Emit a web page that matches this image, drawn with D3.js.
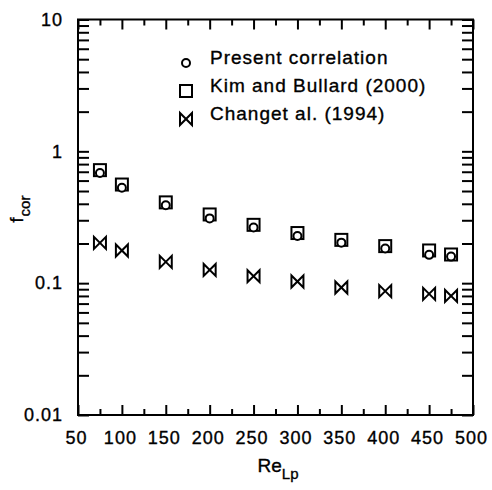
<!DOCTYPE html>
<html>
<head>
  <meta charset="utf-8">
  <title>f_cor vs Re_Lp</title>
  <script src="https://d3js.org/d3.v7.min.js"></script>
</head>

<style>
body { margin: 0; background: white; }
svg text { font-family: "Liberation Sans", Arial, sans-serif; fill: black; stroke: black; stroke-width: 0.35px; }
.tick text { font-size: 18px; letter-spacing: 1px; }
.tick line { stroke: black; stroke-width: 2; }
.domain { display: none; }
</style>

<body>
</body>
<script>

  // Reynolds numbers of the points
  var reLp = [75, 100, 150, 200, 250, 300, 350, 400, 450, 475];

  // series
  var present = [0.686, 0.53, 0.39, 0.31, 0.264, 0.228, 0.203, 0.183, 0.164, 0.159];
  var kimBullard = [0.72, 0.56, 0.41, 0.332, 0.277, 0.24, 0.213, 0.191, 0.177, 0.165];
  var chang = [0.202, 0.177, 0.145, 0.126, 0.113, 0.103, 0.0927, 0.087, 0.083, 0.080];

  var legendLabels = ['Present correlation', 'Kim and Bullard (2000)', 'Changet al. (1994)'];

  var xMajor = [50, 100, 150, 200, 250, 300, 350, 400, 450, 500];
  var xMinor = [75, 125, 175, 225, 275, 325, 375, 425, 475];
  var yMajor = [0.01, 0.1, 1, 10];
  var yLabels = ['0.01', '0.1', '1', '10'];

  var margin = {top: 19.5, right: 19, bottom: 75, left: 78}
    , W = 492, H = 490
    , width = W - margin.left - margin.right
    , height = H - margin.top - margin.bottom;

  var xScale = d3.scaleLinear().domain([50, 500]).range([0, width]);
  var yScale = d3.scaleLog().domain([0.01, 10]).range([height, 0]);

  // minor log ticks 2..9 in each decade
  var yMinor = [];
  yMajor.slice(0, 3).forEach(function(d) {
    for (var k = 2; k <= 9; k++) yMinor.push(d * k);
  });

  var svg = d3.select('body').append('svg')
    .attr('width', W)
    .attr('height', H);

  var g = svg.append('g')
    .attr('transform', 'translate(' + margin.left + ',' + margin.top + ')');

  // bottom axis
  g.append('g')
    .attr('transform', 'translate(0,' + height + ')')
    .call(d3.axisBottom(xScale).tickValues(xMajor).tickSize(-10).tickPadding(16).tickFormat(d3.format('d')))
    .selectAll('text').attr('dx', '-2');
  g.append('g')
    .attr('transform', 'translate(0,' + height + ')')
    .call(d3.axisBottom(xScale).tickValues(xMinor).tickSize(-6).tickFormat(''));

  // top axis
  g.append('g')
    .call(d3.axisTop(xScale).tickValues(xMajor).tickSize(-10).tickFormat(''));
  g.append('g')
    .call(d3.axisTop(xScale).tickValues(xMinor).tickSize(-6).tickFormat(''));

  // left axis
  g.append('g')
    .call(d3.axisLeft(yScale).tickValues(yMajor).tickSize(-11).tickPadding(15)
      .tickFormat(function(d, i) { return yLabels[i]; }));
  g.append('g')
    .call(d3.axisLeft(yScale).tickValues(yMinor).tickSize(-11).tickFormat(''));

  // right axis
  g.append('g')
    .attr('transform', 'translate(' + width + ',0)')
    .call(d3.axisRight(yScale).tickValues(yMajor).tickSize(-11).tickFormat(''));
  g.append('g')
    .attr('transform', 'translate(' + width + ',0)')
    .call(d3.axisRight(yScale).tickValues(yMinor).tickSize(-11).tickFormat(''));

  // frame
  g.append('rect')
    .attr('width', width)
    .attr('height', height)
    .attr('fill', 'none')
    .attr('stroke', 'black')
    .attr('stroke-width', 2);

  // axis titles
  var xt = svg.append('text')
    .attr('x', 278)
    .attr('y', 472)
    .style('text-anchor', 'middle')
    .style('font-size', '19px');
  xt.append('tspan').text('Re');
  xt.append('tspan').attr('dy', 7).style('font-size', '15px').text('Lp');

  var yt = svg.append('text')
    .attr('transform', 'translate(23,209) rotate(-90)')
    .style('text-anchor', 'middle')
    .style('font-size', '18px');
  yt.append('tspan').text('f');
  yt.append('tspan').attr('dy', 7).attr('dx', 1).style('font-size', '15px').text('cor');

  // markers
  var bowtie = 'M-6,-6L-6,6L6,-6L6,6Z';

  function drawSquare(sel) {
    sel.append('rect')
      .attr('x', -6).attr('y', -6)
      .attr('width', 12).attr('height', 12)
      .attr('fill', 'white')
      .attr('stroke', 'black')
      .attr('stroke-width', 2);
  }
  function drawCircle(sel) {
    sel.append('circle')
      .attr('r', 4)
      .attr('fill', 'white')
      .attr('stroke', 'black')
      .attr('stroke-width', 2);
  }
  function drawBowtie(sel) {
    sel.append('path')
      .attr('d', bowtie)
      .attr('fill', 'none')
      .attr('stroke', 'black')
      .attr('stroke-width', 2)
      .attr('stroke-linejoin', 'miter');
  }

  g.selectAll('.kim')
    .data(kimBullard)
    .enter().append('g')
      .attr('class', 'kim')
      .attr('transform', function(d, i) { return 'translate(' + xScale(reLp[i]) + ',' + yScale(d) + ')'; })
      .call(drawSquare);

  g.selectAll('.present')
    .data(present)
    .enter().append('g')
      .attr('class', 'present')
      .attr('transform', function(d, i) { return 'translate(' + xScale(reLp[i]) + ',' + yScale(d) + ')'; })
      .call(drawCircle);

  g.selectAll('.chang')
    .data(chang)
    .enter().append('g')
      .attr('class', 'chang')
      .attr('transform', function(d, i) { return 'translate(' + xScale(reLp[i]) + ',' + yScale(d) + ')'; })
      .call(drawBowtie);

  // legend
  var legendY = [63, 91, 119];
  var drawers = [drawCircle, drawSquare, drawBowtie];
  legendLabels.forEach(function(label, i) {
    var lg = svg.append('g').attr('transform', 'translate(186,' + legendY[i] + ')');
    drawers[i](lg);
    svg.append('text')
      .attr('x', 210)
      .attr('y', legendY[i] + 0.5)
      .style('font-size', '19px')
      .style('letter-spacing', '1px')
      .text(label);
  });

</script>
</html>
